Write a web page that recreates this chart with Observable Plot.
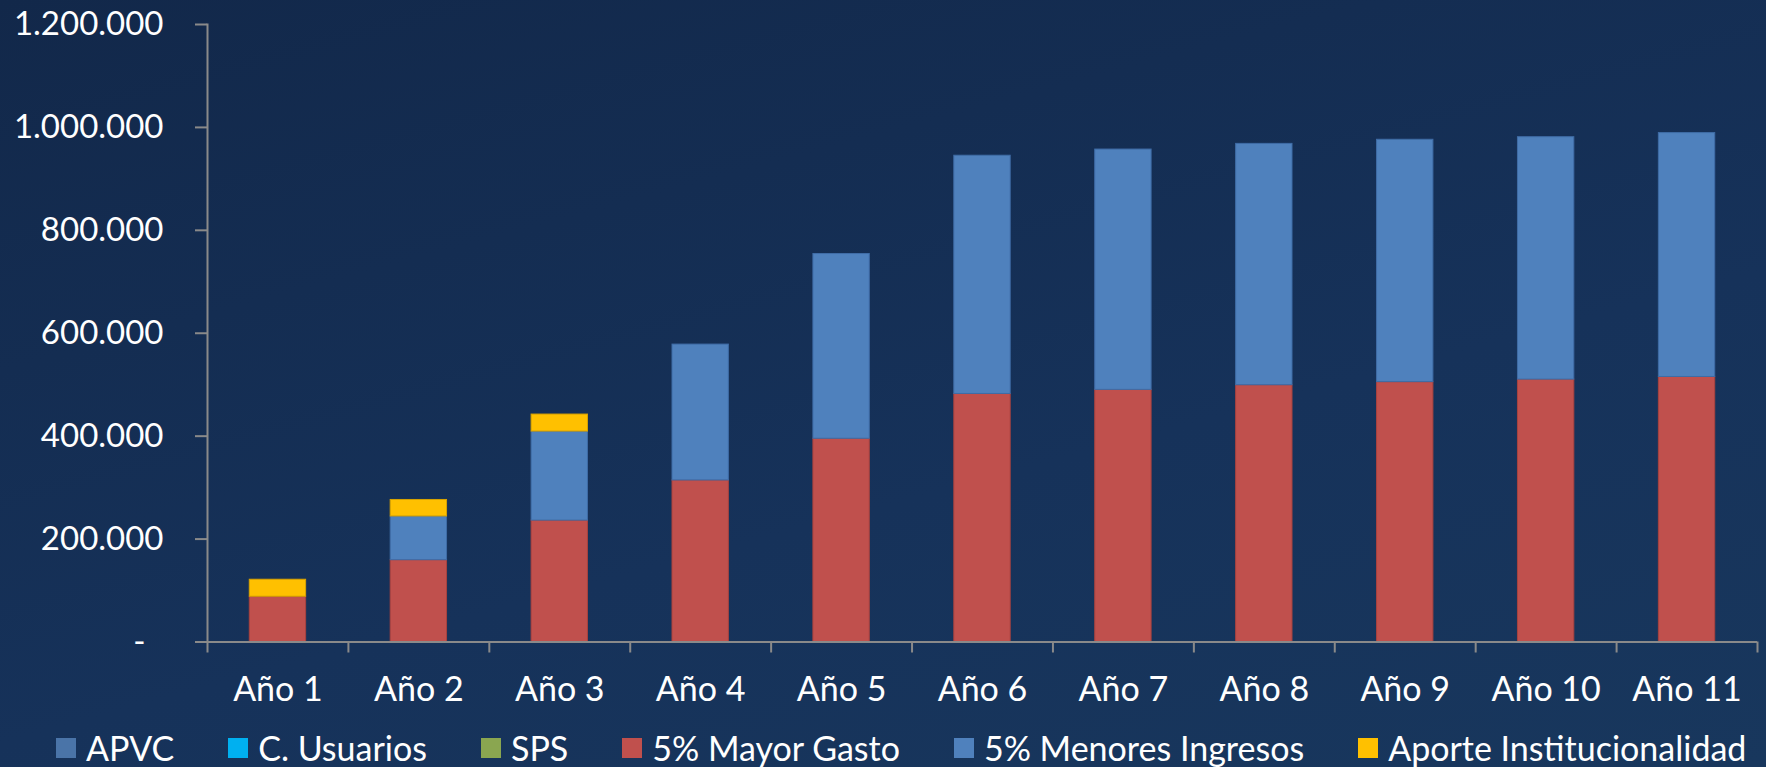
<!DOCTYPE html>
<html>
<head>
<meta charset="utf-8">
<script src="https://cdn.jsdelivr.net/npm/d3@7"></script>
<script src="https://cdn.jsdelivr.net/npm/@observablehq/plot@0.6"></script>
<style>
  html, body { margin: 0; padding: 0; }
  body {
    width: 1766px; height: 767px; overflow: hidden;
    background: linear-gradient(165deg, #12284a 0%, #16325a 60%, #18375d 100%);
    font-family: Lato, "Open Sans", sans-serif;
  }
  #chart svg { display: block; background: transparent; }
  #legend {
    display: flex; align-items: center; gap: 54px;
    padding-left: 56px; height: 47px;
    color: #ffffff; font-size: 34px; font-family: Lato, sans-serif;
    margin-top: 4px;
  }
  .item { display: flex; align-items: center; white-space: nowrap; }
  .sw { width: 20px; height: 20px; margin-right: 10px; flex: none; }
</style>
</head>
<body>
<div id="chart"></div>
<div id="legend"></div>
<script>
const categories = ["Año 1","Año 2","Año 3","Año 4","Año 5","Año 6","Año 7","Año 8","Año 9","Año 10","Año 11"];
const seriesNames = ["APVC","C. Usuarios","SPS","5% Mayor Gasto","5% Menores Ingresos","Aporte Institucionalidad"];
const seriesColors = ["#4a74a8","#00b0f0","#8aa650","#c0504d","#4f81bd","#ffc000"];
const apvc = [0,0,0,0,0,0,0,0,0,0,0];
const cUsuarios = [0,0,0,0,0,0,0,0,0,0,0];
const sps = [0,0,0,0,0,0,0,0,0,0,0];
const mayorGasto = [88000,159000,236000,314000,395000,482000,490000,499000,505000,510000,515000];
const menoresIngresos = [0,85000,173000,264000,359000,463000,467000,469000,471000,471000,474000];
const aporteInst = [33000,32000,33000,0,0,0,0,0,0,0,0];
const yTicks = [200000,400000,600000,800000,1000000,1200000];

const seriesValues = [apvc, cUsuarios, sps, mayorGasto, menoresIngresos, aporteInst];
const rows = [];
seriesNames.forEach((s, si) => {
  categories.forEach((c, ci) => rows.push({cat: c, serie: s, value: seriesValues[si][ci]}));
});

const W = 1766, H = 720, mL = 207, mR = 9, mT = 24, mB = 78.5;
const step = (W - mL - mR) / categories.length;
const fmt = d => d3.format(",")(d).replace(/,/g, ".");
const strokeFor = {"5% Mayor Gasto": "#a9423f", "5% Menores Ingresos": "#3f6ca6", "Aporte Institucionalidad": "#d9a300"};

const plot = Plot.plot({
  width: W, height: H,
  marginLeft: mL, marginRight: mR, marginTop: mT, marginBottom: mB,
  style: {background: "transparent", color: "#ffffff", fontFamily: "Lato, sans-serif"},
  x: {domain: categories, paddingInner: 0.6, paddingOuter: 0.3, round: false, label: null},
  y: {domain: [0, 1200000], label: null},
  color: {domain: seriesNames, range: seriesColors},
  marks: [
    Plot.barY(rows.filter(d => d.value > 0), Plot.stackY({
      x: "cat", y: "value", fill: "serie", order: seriesNames,
      stroke: d => strokeFor[d.serie] || "none", strokeWidth: 1
    })),
    Plot.frame({anchor: "left", stroke: "#8a8a8a", strokeWidth: 2}),
    Plot.ruleY([0], {stroke: "#8a8a8a", strokeWidth: 2}),
    Plot.ruleX(categories, {x: d => d, dx: -step / 2, insetTop: H - mT - mB, insetBottom: -11, stroke: "#8a8a8a", strokeWidth: 2}),
    Plot.ruleX(categories.slice(-1), {x: d => d, dx: step / 2, insetTop: H - mT - mB, insetBottom: -11, stroke: "#8a8a8a", strokeWidth: 2}),
    Plot.axisY({ticks: yTicks, tickFormat: fmt, tickSize: 12, tickPadding: 32, fontSize: 33, stroke: "#8a8a8a", strokeWidth: 2, color: "#ffffff", label: null}),
    Plot.axisY({ticks: [0], tickFormat: () => "-", tickSize: 12, tickPadding: 50, fontSize: 33, stroke: "#8a8a8a", strokeWidth: 2, color: "#ffffff", label: null}),
    Plot.axisX({tickSize: 0, tickPadding: 35, fontSize: 34, color: "#ffffff", label: null})
  ]
});
plot.querySelectorAll("text").forEach(t => t.setAttribute("fill", "#ffffff"));
document.getElementById("chart").appendChild(plot);

const legend = document.getElementById("legend");
seriesNames.forEach((s, i) => {
  const item = document.createElement("div");
  item.className = "item";
  const sw = document.createElement("span");
  sw.className = "sw";
  sw.style.background = seriesColors[i];
  const lab = document.createElement("span");
  lab.textContent = s;
  item.appendChild(sw); item.appendChild(lab);
  legend.appendChild(item);
});
</script>
</body>
</html>
